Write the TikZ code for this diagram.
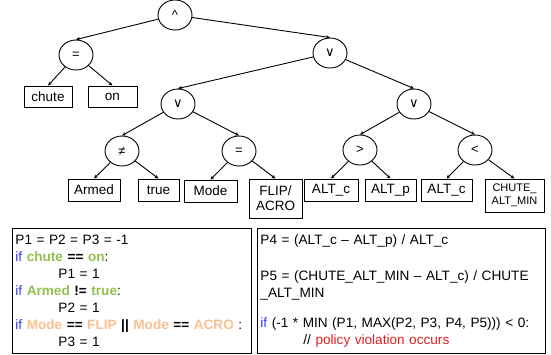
\documentclass[tikz,border=0pt]{standalone}
\usepackage{fontspec}
\setmainfont{Liberation Sans}
\newfontfamily\symfont{DejaVu Sans}
\usetikzlibrary{shapes.geometric,arrows.meta,positioning}
\definecolor{kwblue}{RGB}{51,51,255}
\definecolor{vargreen}{RGB}{146,192,80}
\definecolor{modeorange}{RGB}{250,192,144}
\definecolor{warnred}{RGB}{224,32,32}
\def \ind {\hspace*{43pt}}
\newcommand{\kw}[1]{\textcolor{kwblue}{#1}}
\newcommand{\gv}[1]{\textcolor{vargreen}{\textbf{#1}}}
\newcommand{\ov}[1]{\textcolor{modeorange}{\textbf{#1}}}

\begin{document}
\begin{tikzpicture}[x=1pt,y=-1pt,line width=0.9pt,
    op/.style={ellipse,draw,minimum width=34pt,minimum height=30pt,inner sep=0pt,font=\fontsize{13}{15}\selectfont},
    leaf/.style={rectangle,draw,minimum height=22pt,inner sep=2pt,font=\fontsize{13.5}{15}\selectfont,align=center},
    codebox/.style={rectangle,draw,anchor=north west,minimum height=125pt,inner xsep=3pt,inner ysep=4pt,align=left,font=\fontsize{13.6}{17}\selectfont},
    >={Stealth[length=4pt,width=3.5pt]}]
    \useasboundingbox (0,0) rectangle (551,354);
    % operators
    \node[op] (and) at (175,15) {\^{}};
    \node[op] (eqA) at (76,55) {=};
    \node[op] (orA) at (330,53) {\symfont ∨};
    \node[op] (orB) at (178,104) {\symfont ∨};
    \node[op] (orC) at (414,104) {\symfont ∨};
    \node[op] (neq) at (122,151) {≠};
    \node[op] (eqB) at (239,151) {=};
    \node[op] (gt) at (360,150) {>};
    \node[op] (lt) at (475,150) {<};
    % operands
    \node[leaf,minimum width=48pt,minimum height=21pt] (chute) at (48,96.5) {chute};
    \node[leaf,minimum width=49pt,minimum height=21pt] (on) at (112.5,96.5) {on};
    \node[leaf,minimum width=52pt] (armed) at (94,190) {Armed};
    \node[leaf,minimum width=41pt] (true) at (158.5,190) {true};
    \node[leaf,minimum width=53pt] (mode) at (210.5,191) {Mode};
    \node[leaf,minimum width=53pt,minimum height=39pt] (flip) at (275.5,198.5) {FLIP/\\ACRO};
    \node[leaf,minimum width=54pt] (altcA) at (331,190) {ALT\_c};
    \node[leaf,minimum width=51pt] (altp) at (390.5,190) {ALT\_p};
    \node[leaf,minimum width=51pt] (altcB) at (446.5,190) {ALT\_c};
    \node[leaf,minimum width=59pt,minimum height=33pt,font=\fontsize{11}{13}\selectfont] (chmin) at (514.5,195.5) {CHUTE\_\\ALT\_MIN};
    % edges
    \draw[->] (and) -- (eqA.north);
    \draw[->] (and) -- (orA.north);
    \draw[->] (eqA) -- (chute.north);
    \draw[->] (eqA) -- (on.north);
    \draw[->] (orA) -- (orB.north);
    \draw[->] (orA) -- (orC.north);
    \draw[->] (orB) -- (neq.north);
    \draw[->] (orB) -- (eqB.north);
    \draw[->] (orC) -- (gt.north);
    \draw[->] (orC) -- (lt.north);
    \draw[->] (neq) -- (armed.north);
    \draw[->] (neq) -- (true.north);
    \draw[->] (eqB) -- (mode.north);
    \draw[->] (eqB) -- (flip.north);
    \draw[->] (gt) -- (altcA.north);
    \draw[->] (gt) -- (altp.north);
    \draw[->] (lt) -- (altcB.north);
    \draw[->] (lt) -- (chmin.north);
    % policy code
    \node[codebox,minimum width=239pt,text width=233pt] (left) at (12,228) {%
      P1 = P2 = P3 = -1\\
      \kw{if} \gv{chute} \textbf{==} \gv{on}:\\
      \ind P1 = 1\\
      \kw{if} \gv{Armed} \textbf{!=} \gv{true}:\\
      \ind P2 = 1\\
      \mbox{\kw{if} \ov{Mode} \textbf{==} \ov{FLIP} \textbf{||} \ov{Mode} \textbf{==} \ov{ACRO} :}\\
      \ind P3 = 1};
    \node[codebox,minimum width=288pt,text width=282pt] (right) at (257,228) {%
      P4 = (ALT\_c – ALT\_p) / ALT\_c\\[19pt]
      \mbox{P5 = (CHUTE\_ALT\_MIN – ALT\_c) / CHUTE}\\
      \_ALT\_MIN\\[13pt]
      \mbox{\kw{if} (-1 * MIN (P1, MAX(P2, P3, P4, P5))) < 0:}\\
      \ind // \textcolor{warnred}{policy violation occurs}};
\end{tikzpicture}
\end{document}
